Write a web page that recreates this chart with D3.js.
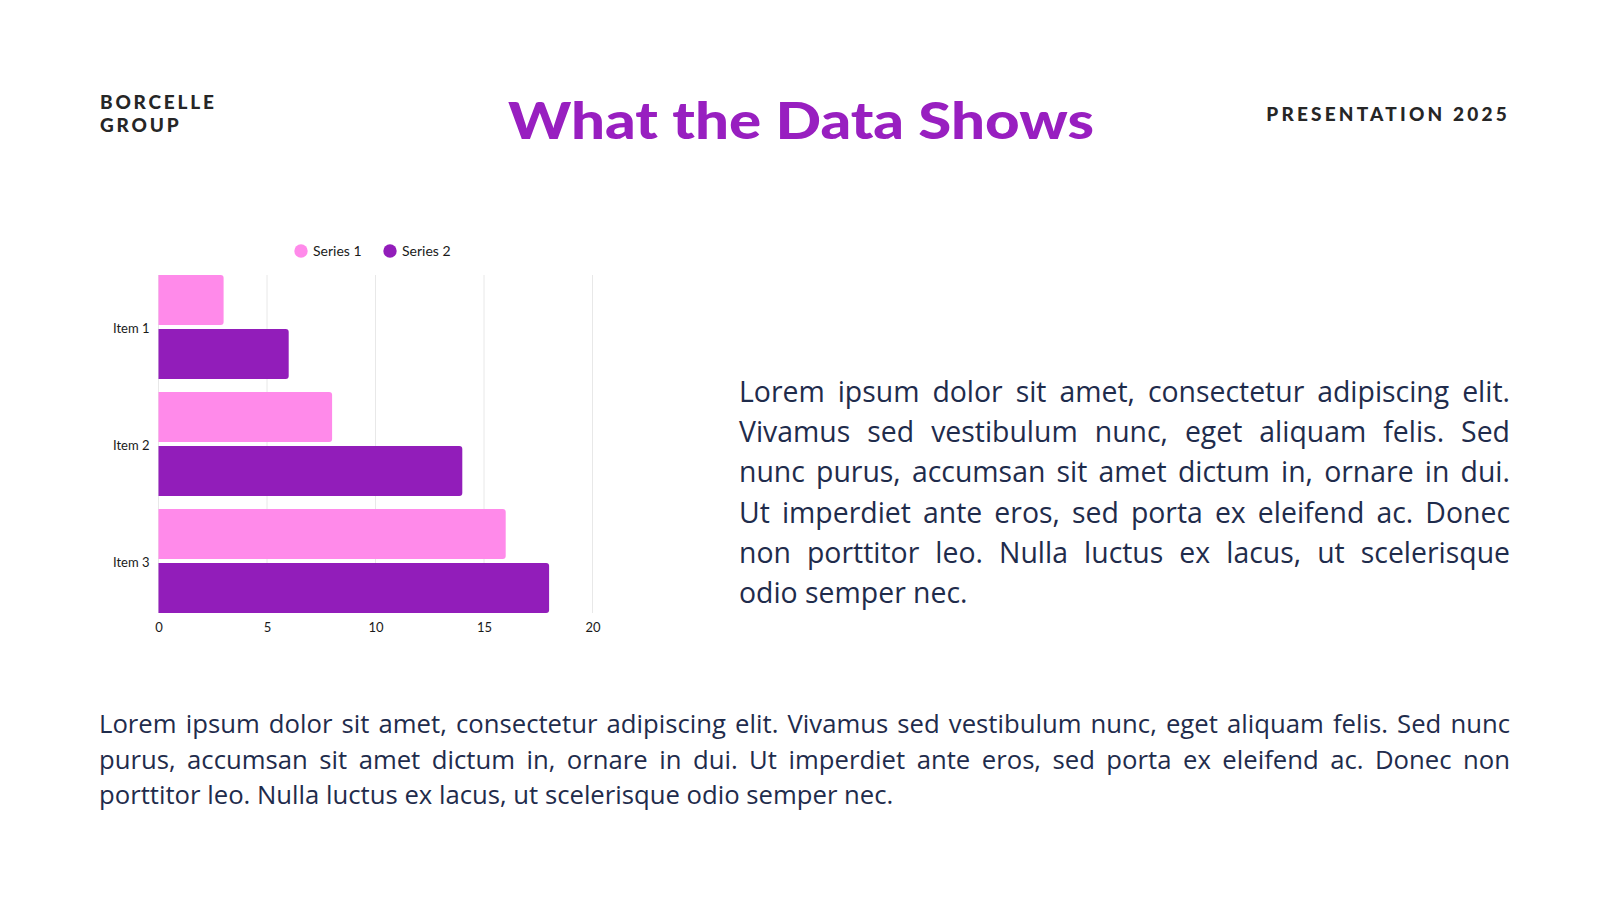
<!DOCTYPE html>
<html>
<head>
<meta charset="utf-8">
<script src="https://cdn.jsdelivr.net/npm/d3@7"></script>
<style>
  html, body { margin: 0; padding: 0; background: #fff; }
  #page { position: relative; width: 1600px; height: 900px; overflow: hidden; }
  svg { position: absolute; left: 0; top: 0; }
  .para { position: absolute; font-family: "Open Sans", sans-serif; color: #1f2c4c; }
  .para div { text-align: justify; text-align-last: justify; white-space: nowrap; }
  .para div.last { text-align-last: left; }
</style>
</head>
<body>
<div id="page"></div>
<script>
// data
const items = ["Item 1", "Item 2", "Item 3"];
const seriesNames = ["Series 1", "Series 2"];
const series1 = [3, 8, 16];
const series2 = [6, 14, 18];
const xTicks = [0, 5, 10, 15, 20];
const colors = ["#ff8aea", "#921dba"];

const sideLines = [
    "Lorem ipsum dolor sit amet, consectetur adipiscing elit.",
    "Vivamus sed vestibulum nunc, eget aliquam felis. Sed",
    "nunc purus, accumsan sit amet dictum in, ornare in dui.",
    "Ut imperdiet ante eros, sed porta ex eleifend ac. Donec",
    "non porttitor leo. Nulla luctus ex lacus, ut scelerisque",
    "odio semper nec."
];
const footLines = [
    "Lorem ipsum dolor sit amet, consectetur adipiscing elit. Vivamus sed vestibulum nunc, eget aliquam felis. Sed nunc",
    "purus, accumsan sit amet dictum in, ornare in dui. Ut imperdiet ante eros, sed porta ex eleifend ac. Donec non",
    "porttitor leo. Nulla luctus ex lacus, ut scelerisque odio semper nec."
];

const page = d3.select("#page");
const svg = page.append("svg").attr("width", 1600).attr("height", 900);

// header
const ink = "#262626";
const head = svg.append("g")
    .attr("font-family", "Lato, sans-serif")
    .attr("font-weight", 900)
    .attr("fill", ink);
head.append("text").attr("x", 100).attr("y", 109).attr("font-size", 19)
    .attr("letter-spacing", 2.8).text("BORCELLE");
head.append("text").attr("x", 100).attr("y", 132).attr("font-size", 19)
    .attr("letter-spacing", 2.8).text("GROUP");
head.append("text").attr("x", 1510).attr("y", 121).attr("font-size", 19)
    .attr("letter-spacing", 3.2).attr("text-anchor", "end").text("PRESENTATION 2025");

svg.append("text")
    .attr("x", 801).attr("y", 138.5)
    .attr("text-anchor", "middle")
    .attr("font-family", "Lato, sans-serif")
    .attr("font-weight", 900)
    .attr("font-size", 52)
    .attr("fill", "#981fc0")
    .attr("textLength", 586)
    .attr("lengthAdjust", "spacingAndGlyphs")
    .text("What the Data Shows");

// chart
const rows = items.map((d, i) => ({ item: d, values: [series1[i], series2[i]] }));

const x = d3.scaleLinear().domain([0, 20]).range([158.5, 592.5]);
const y = d3.scaleBand().domain(items).range([275, 613]).paddingInner(0.111);
const ySub = d3.scaleBand().domain(seriesNames).range([0, y.bandwidth()]).paddingInner(0.074);

const chart = svg.append("g")
    .attr("font-family", "Lato, sans-serif");

chart.append("g").selectAll("line")
    .data(xTicks)
    .join("line")
        .attr("x1", d => x(d)).attr("x2", d => x(d))
        .attr("y1", 275).attr("y2", 613)
        .attr("stroke", "#e8e8e8")
        .attr("stroke-width", 1);

const r = 3;
function barPath(x0, x1, y0, h) {
    const rr = Math.min(r, (x1 - x0) / 2);
    return `M${x0},${y0}H${x1 - rr}Q${x1},${y0} ${x1},${y0 + rr}` +
           `V${y0 + h - rr}Q${x1},${y0 + h} ${x1 - rr},${y0 + h}H${x0}Z`;
}

chart.append("g").selectAll("g")
    .data(rows)
    .join("g")
        .attr("transform", d => `translate(0,${y(d.item)})`)
    .selectAll("path")
    .data(d => d.values.map((v, j) => ({ name: seriesNames[j], v, j })))
    .join("path")
        .attr("d", d => barPath(x(0), x(d.v), ySub(d.name), ySub.bandwidth()))
        .attr("fill", d => colors[d.j]);

const xAxis = chart.append("g")
    .attr("transform", "translate(0,613)")
    .call(d3.axisBottom(x).tickValues(xTicks).tickSize(0).tickPadding(10).tickFormat(d3.format("d")));
xAxis.select(".domain").remove();
xAxis.selectAll("text").attr("font-size", 13).attr("fill", "#1a1a1a").attr("font-family", "Lato, sans-serif");

const yAxis = chart.append("g")
    .attr("transform", `translate(${x(0)},1.5)`)
    .call(d3.axisLeft(y).tickSize(0).tickPadding(9));
yAxis.select(".domain").remove();
yAxis.selectAll("text").attr("font-size", 13).attr("fill", "#1a1a1a").attr("font-family", "Lato, sans-serif");

// legend
const legend = chart.append("g").attr("transform", "translate(301,251)");
const legX = [0, 89];
const lg = legend.selectAll("g")
    .data(seriesNames)
    .join("g")
        .attr("transform", (d, i) => `translate(${legX[i]},0)`);
lg.append("circle").attr("r", 6.7).attr("fill", (d, i) => colors[i]);
lg.append("text").attr("x", 12).attr("dy", "0.35em")
    .attr("font-size", 14).attr("fill", "#1a1a1a").text(d => d);

// paragraphs
function para(lines, left, top, width, size, lh) {
    const p = page.append("div").attr("class", "para")
        .style("left", left + "px").style("top", top + "px")
        .style("width", width + "px")
        .style("font-size", size + "px").style("line-height", lh + "px");
    p.selectAll("div").data(lines).join("div")
        .classed("last", (d, i) => i === lines.length - 1)
        .text(d => d);
}
para(sideLines, 739, 371, 771, 28.4, 40.2);
para(footLines, 99, 706, 1411, 25.7, 35.7);
</script>
</body>
</html>
